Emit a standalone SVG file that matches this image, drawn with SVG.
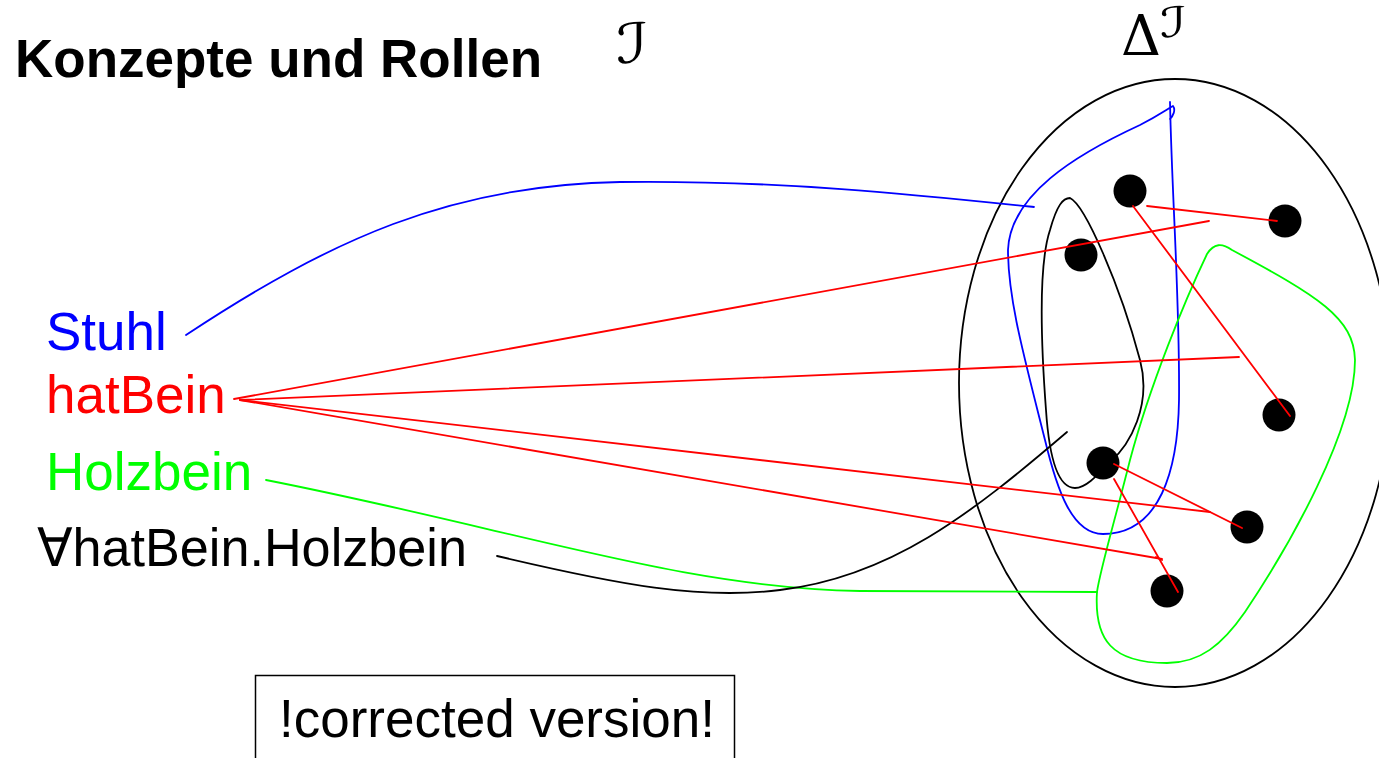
<svg xmlns="http://www.w3.org/2000/svg" width="1379" height="758" viewBox="0 0 1379 758">
<style>
.t{font-family:"Liberation Sans",Arial,sans-serif;font-size:53px}
.m{font-family:"DejaVu Serif","DejaVu Sans",serif}
.ln{fill:none;stroke-width:1.8;stroke-linecap:round;stroke-linejoin:round}
.dot{fill:#000}
</style>
<rect width="1379" height="758" fill="#fff"/>
<g id="title">
<text x="15" y="77" class="t" font-weight="bold" font-size="54.7">Konzepte und Rollen</text>
</g>
<g id="interp">
<text x="616" y="63" class="m" font-size="56" font-style="italic" textLength="32" lengthAdjust="spacingAndGlyphs">ℐ</text>
</g>
<g id="domain-label">
<text x="1121" y="55" class="m" font-size="56" textLength="40" lengthAdjust="spacingAndGlyphs">Δ</text>
<text x="1160" y="37" class="m" font-size="42" font-style="italic" textLength="27" lengthAdjust="spacingAndGlyphs">ℐ</text>
</g>
<g id="domain">
<ellipse cx="1175" cy="383" rx="216" ry="304" class="ln" stroke="#000"/>
</g>
<g id="stuhl-set">
<path class="ln" stroke="#0000ff" d="M1170,102 C1172,200 1180,300 1179,400 C1178,470 1160,534 1103,534 C1072,534 1057,490 1045,440 C1025,360 1008,300 1008,250 C1010,195 1075,155 1140,125 C1158,116 1166,110 1173,106 C1176,110 1173,116 1170,119"/>
</g>
<g id="forall-set">
<path class="ln" stroke="#000" d="M1070,198 C1085,205 1120,285 1140,360 C1152,405 1130,445 1110,462 C1095,478 1085,488 1075,488 C1062,488 1050,470 1046,410 C1040,330 1040,260 1050,230 C1057,205 1063,198 1070,198 Z"/>
</g>
<g id="holzbein-set">
<path class="ln" stroke="#00ff00" d="M1097,592 C1094,640 1112,663 1167,663 C1200,663 1222,645 1245,612 C1290,545 1355,430 1355,360 C1354,318 1318,296 1232,250 C1222,243 1214,243 1207,254 C1185,300 1150,385 1130,460 C1115,520 1100,570 1097,592"/>
</g>
<g id="elements">
<circle class="dot" cx="1130" cy="191" r="16.5"/>
<circle class="dot" cx="1285" cy="221" r="16.5"/>
<circle class="dot" cx="1081" cy="255" r="16.5"/>
<circle class="dot" cx="1279" cy="415" r="16.5"/>
<circle class="dot" cx="1103" cy="463" r="16.5"/>
<circle class="dot" cx="1247" cy="527" r="16.5"/>
<circle class="dot" cx="1167" cy="591" r="16.5"/>
</g>
<g id="stuhl-label">
<text x="46" y="350" class="t" fill="#0000ff">Stuhl</text>
</g>
<g id="hatbein-label">
<text x="46" y="413" class="t" fill="#ff0000">hatBein</text>
</g>
<g id="holzbein-label">
<text x="46" y="490" class="t" fill="#00ff00">Holzbein</text>
</g>
<g id="forall-label">
<text x="37" y="566" class="t" fill="#000" textLength="430" lengthAdjust="spacingAndGlyphs">∀hatBein.Holzbein</text>
</g>
<g id="note">
<rect x="255.5" y="675.5" width="479" height="100" fill="none" stroke="#000" stroke-width="1.5"/>
<text x="279" y="737" class="t">!corrected version!</text>
</g>
<g id="connectors">
<path class="ln" stroke="#0000ff" d="M186,335 C330,240 450,185 620,182 C780,180 920,195 1034,207"/>
<path class="ln" stroke="#00ff00" d="M266,480 C520,530 680,588 860,591 L1097,592"/>
<path class="ln" stroke="#000" d="M497,556 C620,585 700,600 780,590 C890,577 970,515 1067,432"/>
<g stroke="#ff0000" class="ln">
<line x1="234" y1="399" x2="1209" y2="221"/>
<line x1="240" y1="400" x2="1239" y2="357"/>
<line x1="240" y1="400" x2="1210" y2="512"/>
<line x1="240" y1="400" x2="1162" y2="559"/>
<line x1="1147" y1="206" x2="1277" y2="221"/>
<line x1="1133" y1="206" x2="1290" y2="416"/>
<line x1="1114" y1="464" x2="1242" y2="528"/>
<line x1="1114" y1="479" x2="1178" y2="592"/>
<line x1="1156" y1="557" x2="1162" y2="560"/>
</g>
</g>
</svg>
